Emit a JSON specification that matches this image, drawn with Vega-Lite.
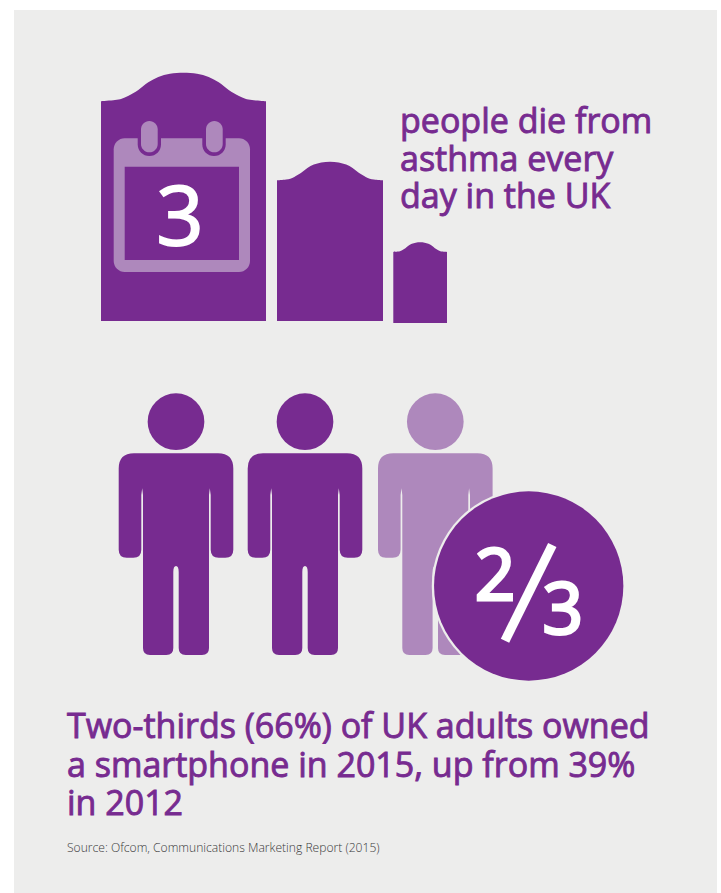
{
"$schema":"https://vega.github.io/schema/vega-lite/v6.json",
"autosize":{"type":"fit","contains":"padding"},
"width":721,"height":893,"padding":0,"background":"#ffffff",
"config":{"view":{"stroke":null}},
"encoding":{
 "x":{"field":"x","type":"quantitative","scale":{"domain":[0,721],"nice":false,"zero":false},"axis":null},
 "y":{"field":"y","type":"quantitative","scale":{"domain":[893,0],"nice":false,"zero":false},"axis":null}
},
"layer":[
{"data":{"values":[{"x":14,"x2":717,"y":10,"y2":893}]},"mark":{"type":"rect","color":"#EDEDEC"},"encoding":{"x2":{"field":"x2"},"y2":{"field":"y2"}}},
{"data":{"values":[
{"stone":"large","x":101,"y":101.2,"base":321},{"stone":"large","x":115,"y":100,"base":321},{"stone":"large","x":121.7,"y":98.7,"base":321},{"stone":"large","x":128,"y":96,"base":321},{"stone":"large","x":138.3,"y":90,"base":321},{"stone":"large","x":148.3,"y":82.3,"base":321},{"stone":"large","x":158.3,"y":77,"base":321},{"stone":"large","x":170,"y":73.7,"base":321},{"stone":"large","x":183.5,"y":72.7,"base":321},{"stone":"large","x":197,"y":73.7,"base":321},{"stone":"large","x":208.7,"y":77,"base":321},{"stone":"large","x":218.7,"y":82.3,"base":321},{"stone":"large","x":228.7,"y":90,"base":321},{"stone":"large","x":239,"y":96,"base":321},{"stone":"large","x":245.3,"y":98.7,"base":321},{"stone":"large","x":252,"y":100,"base":321},{"stone":"large","x":266,"y":101.2,"base":321},
{"stone":"medium","x":277,"y":180.3,"base":321},{"stone":"medium","x":286,"y":179.5,"base":321},{"stone":"medium","x":290.3,"y":178.7,"base":321},{"stone":"medium","x":294.3,"y":176.9,"base":321},{"stone":"medium","x":300.9,"y":173,"base":321},{"stone":"medium","x":307.4,"y":168,"base":321},{"stone":"medium","x":313.8,"y":164.6,"base":321},{"stone":"medium","x":321.3,"y":162.4,"base":321},{"stone":"medium","x":330,"y":161.7,"base":321},{"stone":"medium","x":338.7,"y":162.4,"base":321},{"stone":"medium","x":346.2,"y":164.6,"base":321},{"stone":"medium","x":352.6,"y":168,"base":321},{"stone":"medium","x":359.1,"y":173,"base":321},{"stone":"medium","x":365.7,"y":176.9,"base":321},{"stone":"medium","x":369.7,"y":178.7,"base":321},{"stone":"medium","x":374,"y":179.5,"base":321},{"stone":"medium","x":383,"y":180.3,"base":321},
{"stone":"small","x":393.3,"y":252,"base":323},{"stone":"small","x":397.9,"y":251.6,"base":323},{"stone":"small","x":400,"y":251.2,"base":323},{"stone":"small","x":402.1,"y":250.2,"base":323},{"stone":"small","x":405.4,"y":248.2,"base":323},{"stone":"small","x":408.7,"y":245.6,"base":323},{"stone":"small","x":411.9,"y":243.8,"base":323},{"stone":"small","x":415.7,"y":242.7,"base":323},{"stone":"small","x":420.2,"y":242.3,"base":323},{"stone":"small","x":424.6,"y":242.7,"base":323},{"stone":"small","x":428.4,"y":243.8,"base":323},{"stone":"small","x":431.6,"y":245.6,"base":323},{"stone":"small","x":434.9,"y":248.2,"base":323},{"stone":"small","x":438.2,"y":250.2,"base":323},{"stone":"small","x":440.3,"y":251.2,"base":323},{"stone":"small","x":442.4,"y":251.6,"base":323},{"stone":"small","x":447,"y":252,"base":323}
]},"mark":{"type":"area","color":"#772B90","interpolate":"catmull-rom"},"encoding":{"detail":{"field":"stone"},"y":{"field":"y","type":"quantitative","stack":null},"y2":{"field":"base"}}},
{"data":{"values":[{"x":113.7,"x2":250,"y":138.3,"y2":272}]},"mark":{"type":"rect","color":"#AE88BC","cornerRadius":11},"encoding":{"x2":{"field":"x2"},"y2":{"field":"y2"}}},
{"data":{"values":[{"x":137.7,"x2":161,"y":125,"y2":156},{"x":202.3,"x2":225.7,"y":125,"y2":156}]},"mark":{"type":"rect","color":"#772B90","cornerRadius":11.6},"encoding":{"x2":{"field":"x2"},"y2":{"field":"y2"}}},
{"data":{"values":[{"x":141,"x2":157.7,"y":121,"y2":152.3},{"x":206,"x2":222.7,"y":121,"y2":152.3}]},"mark":{"type":"rect","color":"#AE88BC","cornerRadius":8.3},"encoding":{"x2":{"field":"x2"},"y2":{"field":"y2"}}},
{"data":{"values":[{"x":124.7,"x2":239,"y":166.7,"y2":260}]},"mark":{"type":"rect","color":"#772B90"},"encoding":{"x2":{"field":"x2"},"y2":{"field":"y2"}}},
{"data":{"values":[{"text":"3","x":180,"y":245}]},"mark":{"type":"text","font":"Open Sans","fontSize":83,"color":"#ffffff","stroke":"#ffffff","strokeWidth":1.8,"align":"center","baseline":"alphabetic"},"encoding":{"text":{"field":"text"}}},
{"data":{"values":[{"text":"people die from","x":400,"y":133},{"text":"asthma every","x":400,"y":171},{"text":"day in the UK","x":400,"y":208}]},"mark":{"type":"text","font":"Open Sans","fontSize":34,"color":"#772B90","stroke":"#772B90","strokeWidth":0.9,"align":"left","baseline":"alphabetic"},"encoding":{"text":{"field":"text"}}},
{"data":{"values":[{"owned":"yes","x":176,"y":421.7},{"owned":"yes","x":305,"y":421.7},{"owned":"no","x":435.3,"y":421.7}]},"mark":{"type":"point","shape":"circle","filled":true,"size":3215,"opacity":1,"strokeWidth":0},"encoding":{"color":{"field":"owned","type":"nominal","legend":null,"scale":{"domain":["yes","no"],"range":["#772B90","#AE88BC"]}}}},
{"data":{"values":[{"owned":"yes","x":176,"y":500},{"owned":"yes","x":305,"y":500},{"owned":"no","x":435.3,"y":500}]},"mark":{"type":"point","shape":"M-42,-46.7 H42 Q57.3,-46.7 57.3,-31.4 V49.7 Q57.3,57.7 49.3,57.7 H42.7 Q34.7,57.7 34.7,49.7 V-5 L33.8,-11.7 L33,-5 V148 Q33,155 26,155 H9.7 Q2.7,155 2.7,148 V72 Q2.7,66 0,66 Q-2.7,66 -2.7,72 V148 Q-2.7,155 -9.7,155 H-26 Q-33,155 -33,148 V-5 L-33.8,-11.7 L-34.7,-5 V49.7 Q-34.7,57.7 -42.7,57.7 H-49.3 Q-57.3,57.7 -57.3,49.7 V-31.4 Q-57.3,-46.7 -42,-46.7 Z","filled":true,"size":4,"opacity":1,"strokeWidth":0},"encoding":{"color":{"field":"owned","type":"nominal","legend":null,"scale":{"domain":["yes","no"],"range":["#772B90","#AE88BC"]}}}},
{"data":{"values":[{"x":528.7,"y":586}]},"mark":{"type":"point","shape":"circle","filled":true,"size":37600,"opacity":1,"strokeWidth":0,"color":"#EDEDEC"}},
{"data":{"values":[{"x":528.7,"y":586}]},"mark":{"type":"point","shape":"circle","filled":true,"size":35834,"opacity":1,"strokeWidth":0,"color":"#772B90"}},
{"data":{"values":[{"x":552.3,"x2":505,"y":545,"y2":640.7}]},"mark":{"type":"rule","color":"#ffffff","strokeWidth":9.3},"encoding":{"x2":{"field":"x2"},"y2":{"field":"y2"}}},
{"data":{"values":[{"text":"2","x":495,"y":600},{"text":"3","x":562.7,"y":634}]},"mark":{"type":"text","font":"Open Sans","fontSize":71,"color":"#ffffff","stroke":"#ffffff","strokeWidth":3,"align":"center","baseline":"alphabetic"},"encoding":{"text":{"field":"text"}}},
{"data":{"values":[{"text":"Two-thirds (66%) of UK adults owned","x":67,"y":738},{"text":"a smartphone in 2015, up from 39%","x":67,"y":777},{"text":"in 2012","x":67,"y":815}]},"mark":{"type":"text","font":"Open Sans","fontSize":34,"color":"#772B90","stroke":"#772B90","strokeWidth":0.9,"align":"left","baseline":"alphabetic"},"encoding":{"text":{"field":"text"}}},
{"data":{"values":[{"text":"Source: Ofcom, Communications Marketing Report (2015)","x":67,"y":852}]},"mark":{"type":"text","font":"Open Sans","fontSize":12.1,"fontWeight":300,"color":"#3a3a3a","align":"left","baseline":"alphabetic"},"encoding":{"text":{"field":"text"}}}
]
}
